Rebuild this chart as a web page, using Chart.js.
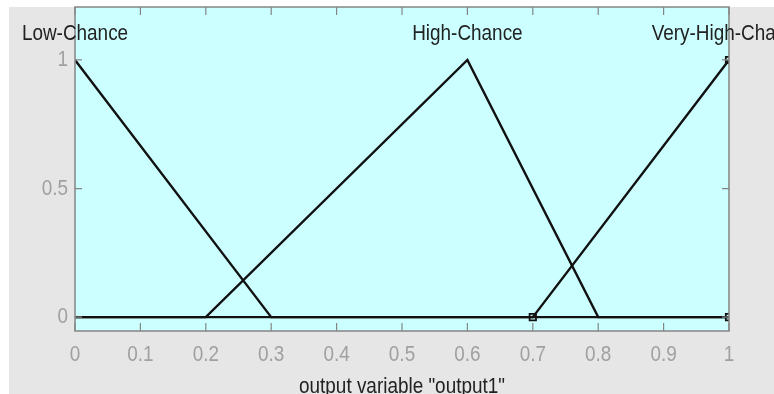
<!DOCTYPE html>
<html>
<head>
<meta charset="utf-8">
<script src="https://cdn.jsdelivr.net/npm/chart.js@4/dist/chart.umd.min.js"></script>
<style>
  html, body { margin: 0; padding: 0; background: #ffffff; }
  #box { width: 774px; height: 394px; }
</style>
</head>
<body>
<div id="box"><canvas id="grafico" width="774" height="394"></canvas></div>
<script>
// membership functions of output1
const lowX  = [0, 0.3, 1];
const lowY  = [1, 0, 0];
const highX = [0, 0.2, 0.6, 0.8, 1];
const highY = [0, 0, 1, 0, 0];
const vhX   = [0, 0.7, 1];
const vhY   = [0, 0, 1];
// handles of the selected function
const handleX = [0.7, 1, 1];
const handleY = [0, 1, 0];

const mfNames = ['Low-Chance', 'High-Chance', 'Very-High-Chance'];
const mfPeaks = [0, 0.6, 1];
const nameY = 1.1;

const xTicks = [0, 0.1, 0.2, 0.3, 0.4, 0.5, 0.6, 0.7, 0.8, 0.9, 1];
const yTicks = [0, 0.5, 1];
const xTitle = 'output variable "output1"';

const FONT = "22px 'Liberation Sans', Arial, sans-serif";
const NARROW = 0.86; // la police d'origine est plus étroite

function pts(xs, ys) {
    return xs.map((x, i) => ({ x: x, y: ys[i] }));
}

function texte(c, str, x, y, align, color) {
    c.save();
    c.translate(x, y);
    c.scale(NARROW, 1);
    c.font = FONT;
    c.fillStyle = color;
    c.textAlign = align;
    c.textBaseline = 'middle';
    c.fillText(str, 0, 0);
    c.restore();
}

// fond gris + zone cyan + cadre + graduations + textes
const decor = {
    id: 'decor',
    beforeDraw(chart) {
        const c = chart.ctx;
        const a = chart.chartArea;
        c.save();
        c.fillStyle = '#e6e6e6';
        c.fillRect(9, 7, chart.width - 9, chart.height - 7);
        c.fillStyle = '#ccffff';
        c.fillRect(a.left, a.top, a.right - a.left, a.bottom - a.top);
        c.restore();
    },
    afterDraw(chart) {
        const c = chart.ctx;
        const a = chart.chartArea;
        const sx = chart.scales.x;
        const sy = chart.scales.y;
        c.save();
        c.strokeStyle = '#858585';
        c.lineWidth = 1.5;
        c.strokeRect(a.left, a.top, a.right - a.left, a.bottom - a.top);
        c.lineWidth = 1.2;
        c.beginPath();
        xTicks.forEach(v => {
            const px = sx.getPixelForValue(v);
            c.moveTo(px, a.bottom); c.lineTo(px, a.bottom - 8);
            c.moveTo(px, a.top); c.lineTo(px, a.top + 8);
        });
        yTicks.forEach(v => {
            const py = sy.getPixelForValue(v);
            c.moveTo(a.left, py); c.lineTo(a.left + 7, py);
            c.moveTo(a.right, py); c.lineTo(a.right - 7, py);
        });
        c.stroke();
        c.restore();

        // étiquettes des graduations
        xTicks.forEach(v => {
            texte(c, String(v), sx.getPixelForValue(v), a.bottom + 24, 'center', '#a0a0a0');
        });
        yTicks.forEach(v => {
            texte(c, String(v), a.left - 7, sy.getPixelForValue(v), 'right', '#a0a0a0');
        });

        mfNames.forEach((n, i) => {
            texte(c, n, sx.getPixelForValue(mfPeaks[i]), sy.getPixelForValue(nameY), 'center', '#222222');
        });
        texte(c, xTitle, (a.left + a.right) / 2, 387, 'center', '#222222');
    }
};

const ctx = document.getElementById('grafico').getContext('2d');
const grafico = new Chart(ctx, {
    type: 'scatter',
    data: {
        datasets: [
            { data: pts(lowX, lowY) },
            { data: pts(highX, highY) },
            { data: pts(vhX, vhY) },
            {
                data: pts(handleX, handleY),
                showLine: false,
                pointStyle: 'rect',
                pointRadius: 4.5,
                pointBorderWidth: 1.8,
                pointBorderColor: '#111111',
                pointBackgroundColor: 'rgba(0,0,0,0)'
            }
        ].map(d => Object.assign({
            showLine: true,
            borderColor: '#111111',
            borderWidth: 2.4,
            pointRadius: 0,
            tension: 0
        }, d))
    },
    options: {
        responsive: false,
        animation: false,
        layout: { padding: { top: 7, right: 45, left: 0, bottom: 0 } },
        plugins: {
            legend: { display: false },
            tooltip: { enabled: false }
        },
        scales: {
            x: {
                type: 'linear',
                min: 0,
                max: 1,
                afterFit: s => { s.height = 63; },
                afterBuildTicks: s => { s.ticks = xTicks.map(v => ({ value: v })); },
                grid: { display: false, drawTicks: false },
                border: { display: false },
                ticks: { display: false }
            },
            y: {
                type: 'linear',
                min: -0.054,
                max: 1.206,
                afterFit: s => { s.width = 75; },
                afterBuildTicks: s => { s.ticks = yTicks.map(v => ({ value: v })); },
                grid: { display: false, drawTicks: false },
                border: { display: false },
                ticks: { display: false }
            }
        }
    },
    plugins: [decor]
});
</script>
</body>
</html>
